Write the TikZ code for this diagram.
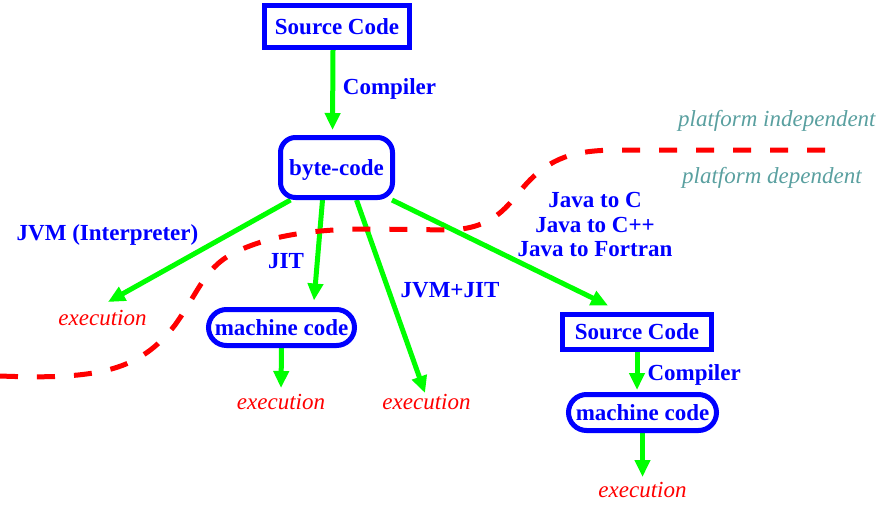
\documentclass[tikz,border=0pt]{standalone}
\usepackage{fontspec}
\setmainfont{Liberation Serif}
\usetikzlibrary{arrows.meta,backgrounds}
\definecolor{myblue}{RGB}{0,0,255}
\definecolor{mygreen}{RGB}{0,255,0}
\definecolor{myred}{RGB}{255,0,0}
\definecolor{myteal}{RGB}{90,160,160}
\begin{document}
\begin{tikzpicture}[x=1pt,y=-1pt,
  box/.style={draw=myblue, line width=5pt, text=myblue, fill=white,
    font=\fontsize{23}{26}\selectfont\bfseries, inner sep=0pt, align=center},
  sqbox/.style={box, rectangle},
  rbox/.style={box, rounded corners=15pt},
  pill/.style={box, rounded corners=18pt},
  lbl/.style={text=myblue, font=\fontsize{23}{25}\selectfont\bfseries, inner sep=0pt},
  exe/.style={text=myred, font=\fontsize{23}{26}\selectfont\itshape, inner sep=0pt, anchor=base},
  plat/.style={text=myteal, font=\fontsize{23}{26}\selectfont\itshape, inner sep=0pt, anchor=base west},
  flow/.style={draw=mygreen, line width=5pt, -{Triangle[width=15pt,length=17pt]}},
  divide/.style={draw=myred, line width=5pt, dash pattern=on 18pt off 19pt}
]
\useasboundingbox (0,0) rectangle (877,508);

% boxed nodes
\node[sqbox, minimum width=145pt, minimum height=42pt] (sc1) at (337,26.5) {Source Code};
\node[rbox, minimum width=112pt, minimum height=60pt, text height=16pt, text depth=0pt] (bc) at (336.5,167.5) {byte-code};
\node[pill, minimum width=146pt, minimum height=36pt] (mc1) at (281.5,327.5) {machine code};
\node[sqbox, minimum width=149pt, minimum height=35pt] (sc2) at (637,332) {Source Code};
\node[pill, minimum width=148pt, minimum height=36pt] (mc2) at (642.5,412.5) {machine code};

% execution texts
\node[exe] (ex1) at (102.5,325) {execution};
\node[exe] (ex2) at (281,409) {execution};
\node[exe] (ex3) at (426.5,409) {execution};
\node[exe] (ex4) at (642.5,497) {execution};

% labels
\node[lbl, anchor=base west] (lcomp1) at (342.7,95) {Compiler};
\node[lbl, anchor=base] (ljvm) at (107.5,240) {JVM (Interpreter)};
\node[lbl, anchor=base] (ljit) at (286,268.3) {JIT};
\node[lbl, anchor=base] (ljvmjit) at (450,297) {JVM+JIT};
\node[lbl, anchor=base] (lj1) at (595,207.7) {Java to C};
\node[lbl, anchor=base] (lj2) at (595,232.3) {Java to C++};
\node[lbl, anchor=base] (lj3) at (595,256.7) {Java to Fortran};
\node[lbl, anchor=base west] (lcomp2) at (647.3,380) {Compiler};
\node[plat] (pind) at (678,127) {platform independent};
\node[plat] (pdep) at (682,183) {platform dependent};

\begin{scope}[on background layer]
  \draw[flow] ([xshift=-4pt]sc1.south) -- ([shift={(-4,-5)}]bc.north);
  \draw[flow] ([xshift=-46pt]bc.south) -- ([shift={(5.5,-23)}]ex1.base);
  \draw[flow] ([xshift=-14pt]bc.south) -- ([shift={(32.5,-6.5)}]mc1.north);
  \draw[flow] ([xshift=20pt]bc.south) -- ([shift={(-1.5,-16)}]ex3.base);
  \draw[flow] ([xshift=-3pt]bc.south east) -- ([shift={(-29,-6.5)}]sc2.north);
  \draw[flow] (mc1.south) -- ([shift={(0,-21)}]ex2.base);
  \draw[flow] (sc2.south) -- ([shift={(-5.5,-2)}]mc2.north);
  \draw[flow] (mc2.south) -- ([shift={(0,-20)}]ex4.base);
  \draw[divide] (0,376) .. controls (100,380) and (140,370) .. (175,325)
     .. controls (200,290) and (205,265) .. (240,250)
     .. controls (280,232) and (330,229) .. (370,229)
     -- (450,230)
     .. controls (500,228) and (510,200) .. (530,180)
     .. controls (555,155) and (580,150) .. (620,150)
     -- (830,150);
\end{scope}
\end{tikzpicture}
\end{document}
